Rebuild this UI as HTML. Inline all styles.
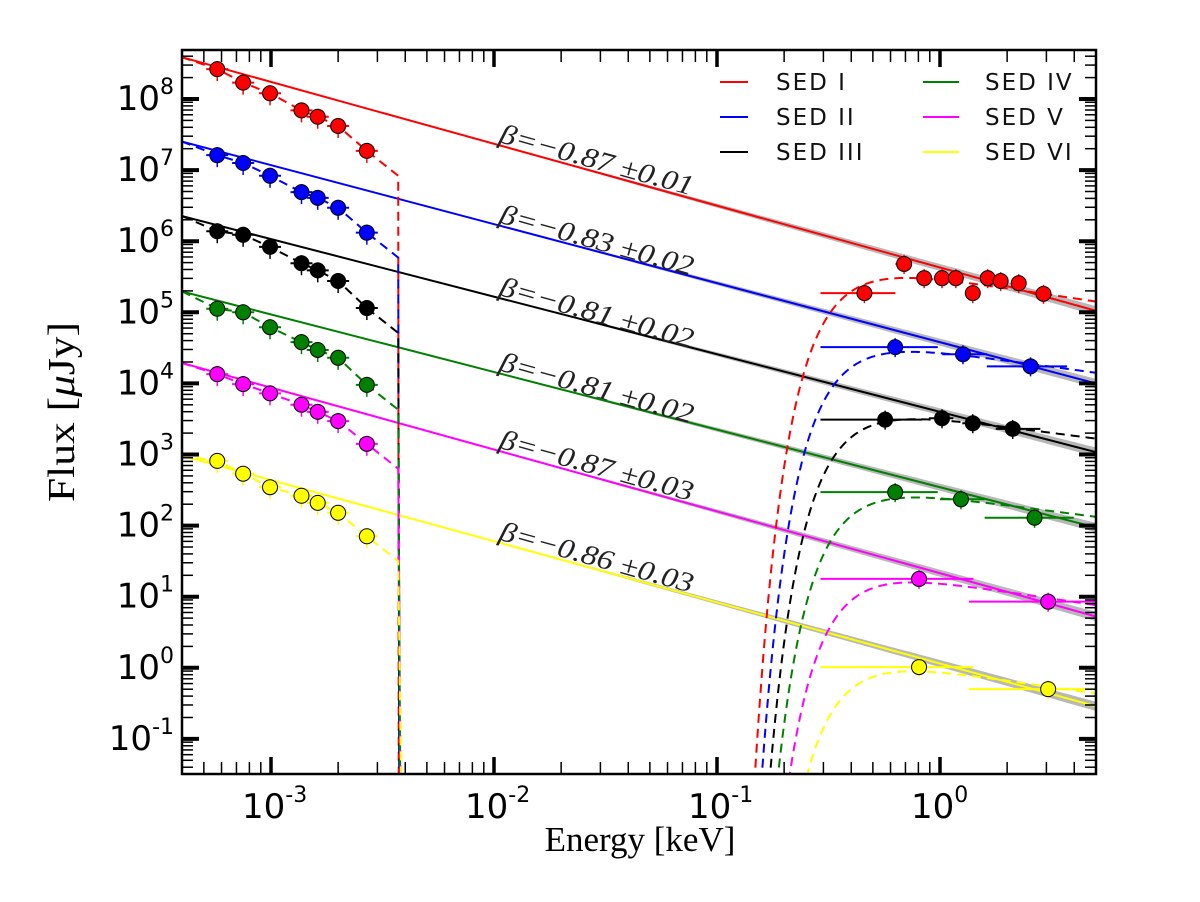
<!DOCTYPE html>
<html><head><meta charset="utf-8"><style>
html,body{margin:0;padding:0;background:#fff;}
svg{display:block;}
</style></head><body>
<svg id="chart" width="1200" height="902" viewBox="0 0 1200 902" xmlns="http://www.w3.org/2000/svg">
<rect x="0" y="0" width="1200" height="902" fill="#fff"/>
<g id="bands"></g><g id="lines"></g><g id="dashes"></g><g id="points"></g><g id="labels"></g>
<g id="axes"></g>
<g id="legend"></g>
<text x="640" y="851" text-anchor="middle" font-family="Liberation Serif, serif" font-size="35">Energy [keV]</text>
<text transform="translate(74,412) rotate(-90)" text-anchor="middle" font-family="Liberation Serif, serif" font-size="38" textLength="180" lengthAdjust="spacingAndGlyphs">Flux [<tspan font-style="italic">μ</tspan>Jy]</text>
</svg>
<script>
// ---- data ----
const seriesNames = ["SED I","SED II","SED III","SED IV","SED V","SED VI"];
const seriesColors = ["#ff0000","#0000ff","#000000","#008000","#ff00ff","#ffff00"];
const betaValues = [-0.87,-0.83,-0.81,-0.81,-0.87,-0.86];
const betaErrors = ["0.01","0.02","0.02","0.02","0.03","0.03"];
const logNorm = [5.63,4.58,3.60,2.54,1.33,0.06];          // log10 flux at 1 keV
const uvEnergy = [5.74e-4,7.5e-4,9.9e-4,1.37e-3,1.62e-3,2.0e-3,2.69e-3];
const uvLogFlux = [
 [8.42,8.23,8.08,7.84,7.75,7.62,7.27],
 [7.21,7.10,6.92,6.69,6.61,6.47,6.12],
 [6.14,6.09,5.92,5.69,5.59,5.44,5.06],
 [5.05,5.00,4.79,4.58,4.47,4.36,3.98],
 [4.13,3.99,3.86,3.70,3.60,3.47,3.15],
 [2.91,2.73,2.54,2.42,2.32,2.18,1.85]];
const uvCutEnergy = 3.72e-3;
const xrLogE = [
 [-0.339,-0.161,-0.071,0.009,0.071,0.147,0.214,0.272,0.353,0.464],
 [-0.201,0.103,0.406],
 [-0.246,0.009,0.147,0.326],
 [-0.201,0.094,0.424],
 [-0.094,0.485],
 [-0.094,0.485]];
const xrLogF = [
 [5.27,5.68,5.48,5.48,5.48,5.27,5.48,5.44,5.41,5.26],
 [4.51,4.41,4.24],
 [3.49,3.51,3.44,3.36],
 [2.47,2.37,2.11],
 [1.25,0.93],
 [0.01,-0.30]];
const xrErrLo = [
 [-0.536,-0.2,-0.1,-0.02,0.04,0.12,0.19,0.25,0.32,0.42],
 [-0.536,0.01,0.21],
 [-0.536,-0.05,0.1,0.25],
 [-0.536,0.0,0.2],
 [-0.536,0.13],
 [-0.536,0.13]];
const xrErrHi = [
 [-0.2,-0.13,-0.04,0.04,0.1,0.17,0.24,0.3,0.38,0.5],
 [-0.01,0.21,0.57],
 [-0.08,0.06,0.2,0.45],
 [-0.01,0.2,0.6],
 [0.15,0.72],
 [0.15,0.72]];
const xrayOffset = [-0.15,-0.13,-0.09,-0.13,-0.12,-0.10];
const xraySlopeShift = 0.4;
const xrayBottomE = [0.148,0.159,0.173,0.188,0.212,0.254];
const xTickLabels = ["-3","-2","-1","0"];
const yTickLabels = ["-1","0","1","2","3","4","5","6","7","8"];

// ---- axes ----
const X0=182,X1=1096,Y0=50,Y1=774;
const xs = le => 271 + (le+3)*223;
const ys = lf => 99 + (8-lf)*71.1;
const LXMIN=(X0-271)/223-3, LXMAX=(X1-271)/223-3;
const LYMIN=8-(Y1-99)/71.1;
const NS="http://www.w3.org/2000/svg";
function mk(tag,attrs,parent){const e=document.createElementNS(NS,tag);for(const k in attrs)e.setAttribute(k,attrs[k]);parent.appendChild(e);return e;}
const gBands=document.getElementById('bands'),gLines=document.getElementById('lines'),gD=document.getElementById('dashes'),gP=document.getElementById('points'),gL=document.getElementById('labels'),gA=document.getElementById('axes'),gLeg=document.getElementById('legend');
const clip=mk('clipPath',{id:'pc'},document.getElementById('chart'));
mk('rect',{x:X0,y:Y0,width:X1-X0,height:Y1-Y0},clip);
[gBands,gLines,gD,gP].forEach(g=>g.setAttribute('clip-path','url(#pc)'));
const pl = (s,le)=>logNorm[s]+betaValues[s]*le;
const xm = (s,le)=>logNorm[s]+xrayOffset[s]+(betaValues[s]+xraySlopeShift)*le;

for(let s=0;s<6;s++){
  const col=seriesColors[s];
  let up=[],dn=[];
  for(let le=-1.6;le<=LXMAX+0.01;le+=0.05){const w=0.015+0.05*Math.max(0,(le+1.6)/2.3);up.push(xs(le)+','+ys(pl(s,le)+w));dn.unshift(xs(le)+','+ys(pl(s,le)-w));}
  const band=mk('polygon',{points:up.concat(dn).join(' '),fill:'#b8b8b8'},gBands);
  
  
  const ln=mk('line',{x1:xs(LXMIN),y1:ys(pl(s,LXMIN)),x2:xs(LXMAX),y2:ys(pl(s,LXMAX)),stroke:col,'stroke-width':2},gLines);
  
  
  let pts=[[xs(LXMIN),ys(pl(s,LXMIN))]];
  uvEnergy.forEach((e,i)=>pts.push([xs(Math.log10(e)),ys(uvLogFlux[s][i])]));
  const lc=Math.log10(uvCutEnergy);
  pts.push([xs(lc),ys(uvLogFlux[s][6]-0.35)]);
  pts.push([xs(lc)+0.5+s*0.5,ys(LYMIN-0.2)]);
  const ud=mk('polyline',{points:pts.map(p=>p.join(',')).join(' '),fill:'none',stroke:col,'stroke-width':2,'stroke-dasharray':'9,6'},gD);
  
  
  const eb=xrayBottomE[s];
  const D=xm(s,Math.log10(eb))-LYMIN;
  const E0=eb*Math.pow(D/0.4343,1/3);
  let xp=[];
  for(let le=Math.log10(eb)-0.02;le<=LXMAX+0.01;le+=0.01){const e=Math.pow(10,le);const v=xm(s,le)-0.4343*Math.pow(E0/e,3);xp.push(xs(le)+','+ys(Math.max(v,LYMIN-0.3)));}
  const xd=mk('polyline',{points:xp.join(' '),fill:'none',stroke:col,'stroke-width':2,'stroke-dasharray':'9,6'},gD);
  
  
  uvEnergy.forEach((e,i)=>{
    const cx=xs(Math.log10(e)),cy=ys(uvLogFlux[s][i]);
    mk('line',{x1:cx-11,y1:cy,x2:cx+11,y2:cy,stroke:col,'stroke-width':2},gP);
    mk('line',{x1:cx,y1:cy-8,x2:cx,y2:cy+12,stroke:col,'stroke-width':1.5},gP);
    const c=mk('circle',{cx:cx,cy:cy,r:7.5,fill:col,stroke:'#000','stroke-width':1},gP);
    
    
  });
  xrLogE[s].forEach((le,i)=>{
    const cx=xs(le),cy=ys(xrLogF[s][i]);
    mk('line',{x1:xs(xrErrLo[s][i]),y1:cy,x2:xs(xrErrHi[s][i]),y2:cy,stroke:col,'stroke-width':2},gP);
    mk('line',{x1:cx,y1:cy-9,x2:cx,y2:cy+10,stroke:col,'stroke-width':1.5},gP);
    const c=mk('circle',{cx:cx,cy:cy,r:7.5,fill:col,stroke:'#000','stroke-width':1},gP);
    
    
  });
  const lx=498, ly=ys(pl(s,(lx-271)/223-3))-3;
  const t=mk('text',{x:lx,y:ly,transform:`rotate(15.5 ${lx} ${ly})`,'font-family':'Liberation Serif, serif','font-style':'italic','font-size':28,textLength:200,lengthAdjust:'spacingAndGlyphs',fill:'#222'},gL);
  t.textContent='β=−'+Math.abs(betaValues[s]).toFixed(2)+' ±'+betaErrors[s];
  
  
  const col2=s>=3, row=s%3;
  const lgx=col2?923:720, lgy=82+row*35;
  mk('line',{x1:lgx,y1:lgy,x2:lgx+(col2?36:28),y2:lgy,stroke:col,'stroke-width':2},gLeg);
  const lt=mk('text',{x:col2?985:776,y:lgy+8,'font-family':'DejaVu Sans, sans-serif','font-size':23,'letter-spacing':2,fill:'#111'},gLeg);
  lt.textContent=seriesNames[s];
  
  
}

mk('rect',{x:X0,y:Y0,width:X1-X0,height:Y1-Y0,fill:'none',stroke:'#000','stroke-width':2.5},gA);
for(let d=-4;d<=0;d++){
  for(let m=1;m<10;m++){
    const le=d+Math.log10(m); if(le<LXMIN||le>LXMAX)continue;
    const x=xs(le), maj=m===1;
    const L=maj?17:12, w=maj?3.5:1.5;
    mk('line',{x1:x,y1:Y1,x2:x,y2:Y1-L,stroke:'#000','stroke-width':w},gA);
    mk('line',{x1:x,y1:Y0,x2:x,y2:Y0+L,stroke:'#000','stroke-width':w},gA);
  }
}
xTickLabels.forEach(lab=>{
  const x=xs(+lab);
  const t=mk('text',{x:x-29,y:818,'font-family':'DejaVu Sans, sans-serif','font-size':34},gA);
  
  
  t.innerHTML='10<tspan dy="-16" font-size="22">'+lab+'</tspan>';
});
for(let d=-2;d<=8;d++){
  for(let m=1;m<10;m++){
    const lf=d+Math.log10(m); if(lf<LYMIN||lf>8.69)continue;
    const y=ys(lf), maj=m===1;
    const L=maj?17:11, w=maj?4:1.5;
    mk('line',{x1:X0,y1:y,x2:X0+L,y2:y,stroke:'#000','stroke-width':w},gA);
    mk('line',{x1:X1,y1:y,x2:X1-L,y2:y,stroke:'#000','stroke-width':w},gA);
  }
}
yTickLabels.forEach(lab=>{
  const y=ys(+lab);
  const t=mk('text',{x:174,y:y+11,'text-anchor':'end','font-family':'DejaVu Sans, sans-serif','font-size':34},gA);
  
  
  t.innerHTML='10<tspan dy="-16" font-size="22">'+lab+'</tspan>';
});
</script>
</body></html>
